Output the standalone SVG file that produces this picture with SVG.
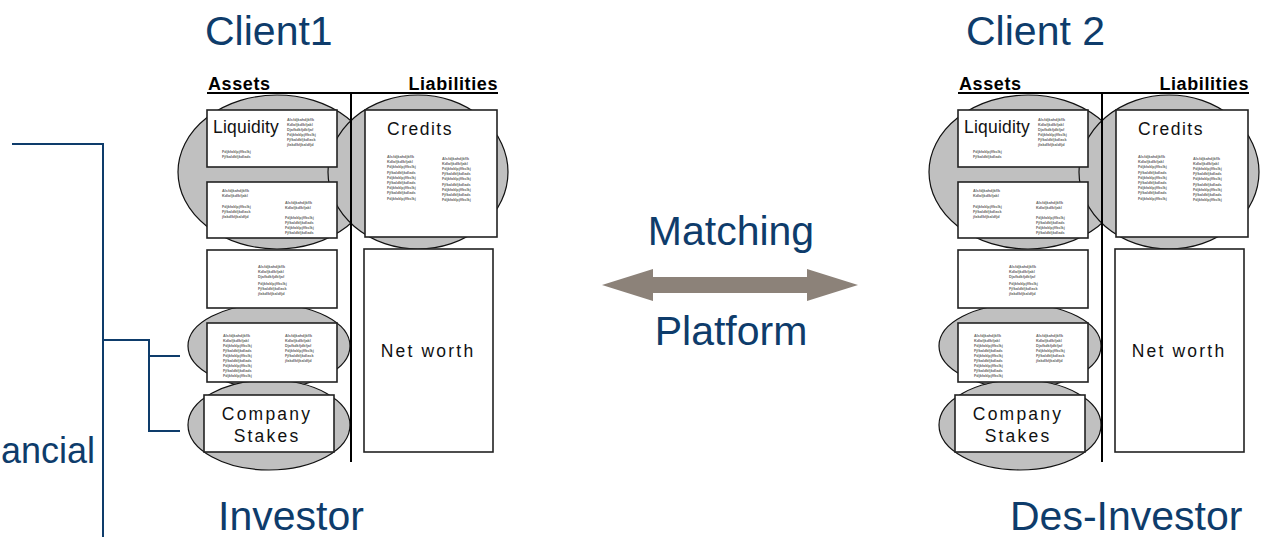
<svg xmlns="http://www.w3.org/2000/svg" width="1265" height="537" viewBox="0 0 1265 537">
  <style>
    .title { font-family: "Liberation Sans", Arial, sans-serif; font-size: 41px; fill: #0e3c6b; }
    .head { font-family: "Liberation Sans", Arial, sans-serif; font-size: 18px; font-weight: bold; fill: #000; letter-spacing: 0.6px; }
    .lbl { font-family: "Liberation Sans", Arial, sans-serif; font-size: 17.5px; fill: #111; letter-spacing: 2.2px; }
    .liq { letter-spacing: 0.2px; }
    .cred { letter-spacing: 1.5px; }
    .s { font-family: "Liberation Sans", Arial, sans-serif; font-size: 3.8px; font-weight: bold; fill: #666; }
    .ell { fill: #c0c0c0; stroke: #111; stroke-width: 1.2; }
    .box { fill: #fff; stroke: #222; stroke-width: 1.6; }
    .rule { stroke: #000; stroke-width: 2; fill: none; }
    .bracket { stroke: #0e3c6b; stroke-width: 2; fill: none; }
  </style>

  <!-- connectors: bracket on the left and the matching arrow -->
  <g id="connectors">
    <polyline class="bracket" points="12,144 103,144 103,537"/>
    <polyline class="bracket" points="103,340 149,340 149,431 180,431"/>
    <line class="bracket" x1="149" y1="356" x2="180" y2="356"/>
    <polygon id="matching-arrow" fill="#8c8279" points="602,285 653,269 653,277 807,277 807,269 858,285 807,301 807,293 653,293 653,301"/>
  </g>

  <text class="title" x="95" y="463" text-anchor="end" style="font-size:36px">ancial</text>

  <g id="platform-label">
    <text class="title" x="731" y="245" text-anchor="middle">Matching</text>
    <text class="title" x="731" y="345" text-anchor="middle">Platform</text>
  </g>

  <!-- balance sheet of the investor -->
  <g id="client1">
    <text class="title" x="205" y="45">Client1</text>
    <text class="title" x="218" y="530">Investor</text>

    <text class="head" x="208" y="90">Assets</text>
    <text class="head" x="498" y="90" text-anchor="end">Liabilities</text>
    <line class="rule" x1="207" y1="93" x2="498" y2="93"/>

    <ellipse class="ell" cx="277" cy="172" rx="99" ry="77"/>
    <ellipse class="ell" cx="418" cy="172" rx="90" ry="77"/>
    <ellipse class="ell" cx="269" cy="346" rx="81" ry="42"/>
    <ellipse class="ell" cx="269" cy="425" rx="81" ry="45"/>
    <line class="rule" x1="351" y1="93" x2="351" y2="462"/>

    <g id="c1-liquidity">
      <rect class="box" x="207" y="110" width="130" height="57"/>
      <text class="lbl liq" x="213" y="133">Liquidity</text>
      <text class="s"><tspan x="287" y="121">Alsfdjkahdjkflk</tspan><tspan x="287" y="126">Kdlafjkdlkfjakl</tspan><tspan x="287" y="131">Djafkdkfjdkfjaf</tspan><tspan x="287" y="136">Fdjkfaklpjffkslkj</tspan><tspan x="287" y="141">Fjfkaldkfjkdlask</tspan><tspan x="287" y="146">jfakdlkfjkaldfjd</tspan></text>
      <text class="s"><tspan x="222" y="153">Fdjkfaklpjffkslkj</tspan><tspan x="222" y="158">Fjfkaldkfjkdlads</tspan></text>
    </g>

    <g id="c1-box2">
      <rect class="box" x="207" y="182" width="130" height="56"/>
      <text class="s"><tspan x="222" y="192">Alsfdjkahdjkflk</tspan><tspan x="222" y="197">Kdlafjkdlkfjakl</tspan><tspan x="222" y="208">Fdjkfaklpjffkslkj</tspan><tspan x="222" y="213">Fjfkaldkfjkdlask</tspan><tspan x="222" y="218">jfakdlkfjkaldfjd</tspan></text>
      <text class="s"><tspan x="285" y="204">Alsfdjkahdjkflk</tspan><tspan x="285" y="209">Kdlafjkdlkfjakl</tspan><tspan x="285" y="219">Fdjkfaklpjffkslkj</tspan><tspan x="285" y="224">Fjfkaldkfjkdlads</tspan><tspan x="285" y="229">Fdjkfaklpjffkslkj</tspan><tspan x="285" y="234">Fjfkaldkfjkdlads</tspan></text>
    </g>

    <g id="c1-credits">
      <rect class="box" x="365" y="110" width="132" height="127"/>
      <text class="lbl cred" x="387" y="135">Credits</text>
      <text class="s"><tspan x="387" y="158">Alsfdjkahdjkflk</tspan><tspan x="387" y="163.2">Kdlafjkdlkfjakl</tspan><tspan x="387" y="168.4">Fdjkfaklpjffkslkj</tspan><tspan x="387" y="173.6">Fjfkaldkfjkdlads</tspan><tspan x="387" y="178.8">Fdjkfaklpjffkslkj</tspan><tspan x="387" y="184">Fjfkaldkfjkdlads</tspan><tspan x="387" y="189.2">Fdjkfaklpjffkslkj</tspan><tspan x="387" y="194.4">Fjfkaldkfjkdlads</tspan><tspan x="387" y="199.6">Fdjkfaklpjffkslkj</tspan></text>
      <text class="s"><tspan x="442" y="159.5">Alsfdjkahdjkflk</tspan><tspan x="442" y="164.7">Kdlafjkdlkfjakl</tspan><tspan x="442" y="169.9">Fdjkfaklpjffkslkj</tspan><tspan x="442" y="175.1">Fjfkaldkfjkdlads</tspan><tspan x="442" y="180.3">Fdjkfaklpjffkslkj</tspan><tspan x="442" y="185.5">Fjfkaldkfjkdlads</tspan><tspan x="442" y="190.7">Fdjkfaklpjffkslkj</tspan><tspan x="442" y="195.9">Fjfkaldkfjkdlads</tspan><tspan x="442" y="201.1">Fdjkfaklpjffkslkj</tspan></text>
    </g>

    <g id="c1-box3">
      <rect class="box" x="207" y="250" width="130" height="58"/>
      <text class="s"><tspan x="258" y="268">Alsfdjkahdjkflk</tspan><tspan x="258" y="273">Kdlafjkdlkfjakl</tspan><tspan x="258" y="278">Djafkdkfjdkfjaf</tspan><tspan x="258" y="284.5">Fdjkfaklpjffkslkj</tspan><tspan x="258" y="289.5">Fjfkaldkfjkdlask</tspan><tspan x="258" y="294.5">jfakdlkfjkaldfjd</tspan></text>
    </g>

    <g id="c1-networth">
      <rect class="box" x="364" y="249" width="129" height="203"/>
      <text class="lbl" x="428" y="357" text-anchor="middle">Net worth</text>
    </g>

    <g id="c1-box4">
      <rect class="box" x="207" y="323" width="130" height="59"/>
      <text class="s"><tspan x="223" y="336.5">Alsfdjkahdjkflk</tspan><tspan x="223" y="341.5">Kdlafjkdlkfjakl</tspan><tspan x="223" y="346.5">Fdjkfaklpjffkslkj</tspan><tspan x="223" y="351.5">Fjfkaldkfjkdlads</tspan><tspan x="223" y="356.5">Fdjkfaklpjffkslkj</tspan><tspan x="223" y="361.5">Fjfkaldkfjkdlads</tspan><tspan x="223" y="366.5">Fdjkfaklpjffkslkj</tspan><tspan x="223" y="371.5">Fjfkaldkfjkdlads</tspan><tspan x="223" y="376.5">Fdjkfaklpjffkslkj</tspan></text>
      <text class="s"><tspan x="285" y="336.5">Alsfdjkahdjkflk</tspan><tspan x="285" y="341.5">Kdlafjkdlkfjakl</tspan><tspan x="285" y="346.5">Djafkdkfjdkfjaf</tspan><tspan x="285" y="351.5">Fdjkfaklpjffkslkj</tspan><tspan x="285" y="356.5">Fjfkaldkfjkdlask</tspan><tspan x="285" y="361.5">jfakdlkfjkaldfjd</tspan></text>
    </g>

    <g id="c1-stakes">
      <rect class="box" x="204" y="395" width="130" height="57"/>
      <text class="lbl" x="267" y="420" text-anchor="middle">Company</text>
      <text class="lbl" x="267" y="442" text-anchor="middle">Stakes</text>
    </g>
  </g>

  <!-- balance sheet of the des-investor -->
  <g id="client2">
    <text class="title" x="966" y="45">Client 2</text>
    <text class="title" x="1010" y="530">Des-Investor</text>

    <g transform="translate(751,0)">
      <text class="head" x="208" y="90">Assets</text>
      <text class="head" x="498" y="90" text-anchor="end">Liabilities</text>
      <line class="rule" x1="207" y1="93" x2="498" y2="93"/>

      <ellipse class="ell" cx="277" cy="172" rx="99" ry="77"/>
      <ellipse class="ell" cx="418" cy="172" rx="90" ry="77"/>
      <ellipse class="ell" cx="269" cy="346" rx="81" ry="42"/>
      <ellipse class="ell" cx="269" cy="425" rx="81" ry="45"/>
      <line class="rule" x1="351" y1="93" x2="351" y2="462"/>

      <g id="c2-liquidity">
        <rect class="box" x="207" y="110" width="130" height="57"/>
        <text class="lbl liq" x="213" y="133">Liquidity</text>
        <text class="s"><tspan x="287" y="121">Alsfdjkahdjkflk</tspan><tspan x="287" y="126">Kdlafjkdlkfjakl</tspan><tspan x="287" y="131">Djafkdkfjdkfjaf</tspan><tspan x="287" y="136">Fdjkfaklpjffkslkj</tspan><tspan x="287" y="141">Fjfkaldkfjkdlask</tspan><tspan x="287" y="146">jfakdlkfjkaldfjd</tspan></text>
        <text class="s"><tspan x="222" y="153">Fdjkfaklpjffkslkj</tspan><tspan x="222" y="158">Fjfkaldkfjkdlads</tspan></text>
      </g>

      <g id="c2-box2">
        <rect class="box" x="207" y="182" width="130" height="56"/>
        <text class="s"><tspan x="222" y="192">Alsfdjkahdjkflk</tspan><tspan x="222" y="197">Kdlafjkdlkfjakl</tspan><tspan x="222" y="208">Fdjkfaklpjffkslkj</tspan><tspan x="222" y="213">Fjfkaldkfjkdlask</tspan><tspan x="222" y="218">jfakdlkfjkaldfjd</tspan></text>
        <text class="s"><tspan x="285" y="204">Alsfdjkahdjkflk</tspan><tspan x="285" y="209">Kdlafjkdlkfjakl</tspan><tspan x="285" y="219">Fdjkfaklpjffkslkj</tspan><tspan x="285" y="224">Fjfkaldkfjkdlads</tspan><tspan x="285" y="229">Fdjkfaklpjffkslkj</tspan><tspan x="285" y="234">Fjfkaldkfjkdlads</tspan></text>
      </g>

      <g id="c2-credits">
        <rect class="box" x="365" y="110" width="132" height="127"/>
        <text class="lbl cred" x="387" y="135">Credits</text>
        <text class="s"><tspan x="387" y="158">Alsfdjkahdjkflk</tspan><tspan x="387" y="163.2">Kdlafjkdlkfjakl</tspan><tspan x="387" y="168.4">Fdjkfaklpjffkslkj</tspan><tspan x="387" y="173.6">Fjfkaldkfjkdlads</tspan><tspan x="387" y="178.8">Fdjkfaklpjffkslkj</tspan><tspan x="387" y="184">Fjfkaldkfjkdlads</tspan><tspan x="387" y="189.2">Fdjkfaklpjffkslkj</tspan><tspan x="387" y="194.4">Fjfkaldkfjkdlads</tspan><tspan x="387" y="199.6">Fdjkfaklpjffkslkj</tspan></text>
        <text class="s"><tspan x="442" y="159.5">Alsfdjkahdjkflk</tspan><tspan x="442" y="164.7">Kdlafjkdlkfjakl</tspan><tspan x="442" y="169.9">Fdjkfaklpjffkslkj</tspan><tspan x="442" y="175.1">Fjfkaldkfjkdlads</tspan><tspan x="442" y="180.3">Fdjkfaklpjffkslkj</tspan><tspan x="442" y="185.5">Fjfkaldkfjkdlads</tspan><tspan x="442" y="190.7">Fdjkfaklpjffkslkj</tspan><tspan x="442" y="195.9">Fjfkaldkfjkdlads</tspan><tspan x="442" y="201.1">Fdjkfaklpjffkslkj</tspan></text>
      </g>

      <g id="c2-box3">
        <rect class="box" x="207" y="250" width="130" height="58"/>
        <text class="s"><tspan x="258" y="268">Alsfdjkahdjkflk</tspan><tspan x="258" y="273">Kdlafjkdlkfjakl</tspan><tspan x="258" y="278">Djafkdkfjdkfjaf</tspan><tspan x="258" y="284.5">Fdjkfaklpjffkslkj</tspan><tspan x="258" y="289.5">Fjfkaldkfjkdlask</tspan><tspan x="258" y="294.5">jfakdlkfjkaldfjd</tspan></text>
      </g>

      <g id="c2-networth">
        <rect class="box" x="364" y="249" width="129" height="203"/>
        <text class="lbl" x="428" y="357" text-anchor="middle">Net worth</text>
      </g>

      <g id="c2-box4">
        <rect class="box" x="207" y="323" width="130" height="59"/>
        <text class="s"><tspan x="223" y="336.5">Alsfdjkahdjkflk</tspan><tspan x="223" y="341.5">Kdlafjkdlkfjakl</tspan><tspan x="223" y="346.5">Fdjkfaklpjffkslkj</tspan><tspan x="223" y="351.5">Fjfkaldkfjkdlads</tspan><tspan x="223" y="356.5">Fdjkfaklpjffkslkj</tspan><tspan x="223" y="361.5">Fjfkaldkfjkdlads</tspan><tspan x="223" y="366.5">Fdjkfaklpjffkslkj</tspan><tspan x="223" y="371.5">Fjfkaldkfjkdlads</tspan><tspan x="223" y="376.5">Fdjkfaklpjffkslkj</tspan></text>
        <text class="s"><tspan x="285" y="336.5">Alsfdjkahdjkflk</tspan><tspan x="285" y="341.5">Kdlafjkdlkfjakl</tspan><tspan x="285" y="346.5">Djafkdkfjdkfjaf</tspan><tspan x="285" y="351.5">Fdjkfaklpjffkslkj</tspan><tspan x="285" y="356.5">Fjfkaldkfjkdlask</tspan><tspan x="285" y="361.5">jfakdlkfjkaldfjd</tspan></text>
      </g>

      <g id="c2-stakes">
        <rect class="box" x="204" y="395" width="130" height="57"/>
        <text class="lbl" x="267" y="420" text-anchor="middle">Company</text>
        <text class="lbl" x="267" y="442" text-anchor="middle">Stakes</text>
      </g>
    </g>
  </g>
</svg>
